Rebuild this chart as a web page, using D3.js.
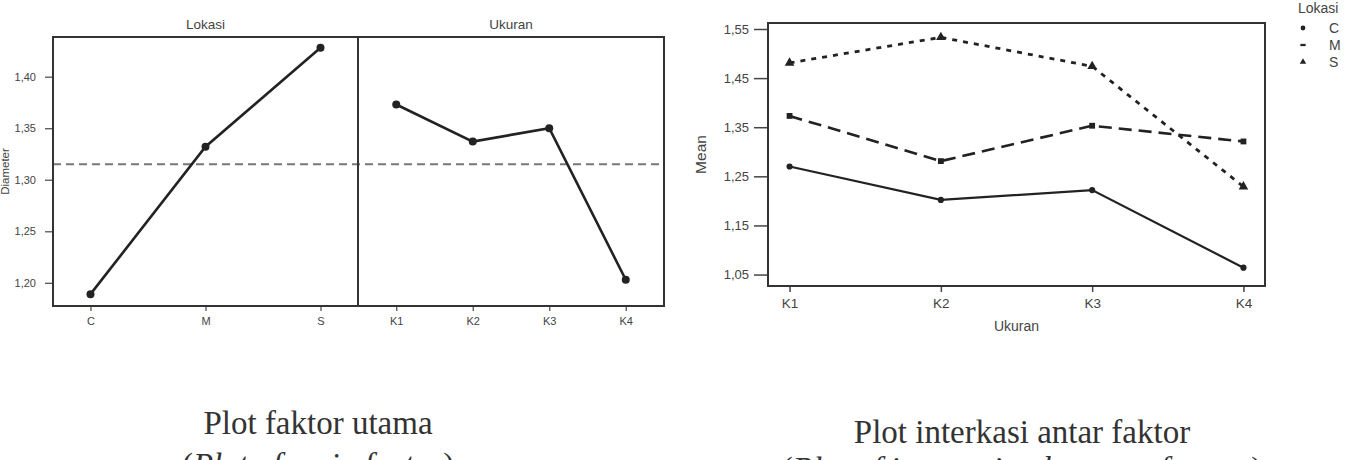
<!DOCTYPE html>
<html>
<head>
<meta charset="utf-8">
<script src="https://cdn.jsdelivr.net/npm/d3@7"></script>
<style>
  body { margin: 0; background: #fff; }
  svg { display: block; }
</style>
</head>
<body>
<div id="chart"></div>
<script>
// main effects
const lokasi = ["C", "M", "S"];
const lokasiMean = [1.189, 1.332, 1.428];
const ukuran = ["K1", "K2", "K3", "K4"];
const ukuranMean = [1.373, 1.337, 1.350, 1.203];
const grandMean = 1.315;
const mainTicks = [1.20, 1.25, 1.30, 1.35, 1.40];

// interaction (one series per lokasi, values over ukuran)
const seriesC = [1.270, 1.202, 1.222, 1.064];
const seriesM = [1.373, 1.281, 1.353, 1.321];
const seriesS = [1.481, 1.533, 1.474, 1.229];
const interTicks = [1.05, 1.15, 1.25, 1.35, 1.45, 1.55];

const fmt = d3.formatLocale({decimal: ",", thousands: ".", grouping: [3], currency: ["", ""]}).format(".2f");

const sans = "Liberation Sans, Arial, sans-serif";
const serif = "Liberation Serif, Times New Roman, serif";

const svg = d3.select("#chart").append("svg")
    .attr("width", 1350)
    .attr("height", 460)
    .attr("font-family", sans);

svg.append("rect").attr("width", 1350).attr("height", 460).attr("fill", "#fff");

const ink = "#222";
const grey = "#444";

// ---------- left chart: main effects ----------
const top1 = 37, bottom1 = 306;
const y1 = d3.scaleLinear().domain([1.1775, 1.4385]).range([bottom1, top1]);
const xLok = d3.scalePoint().domain(lokasi).range([53, 358]).padding(0.326);
const xUk = d3.scalePoint().domain(ukuran).range([358, 664]).padding(0.5);

const yAx1 = svg.append("g")
    .attr("transform", "translate(53,0)")
    .call(d3.axisLeft(y1).tickValues(mainTicks).tickFormat(fmt).tickSize(8).tickPadding(9));
yAx1.select(".domain").remove();
yAx1.selectAll("line").attr("stroke", "#555").attr("stroke-width", 1.3);
yAx1.selectAll("text").attr("fill", grey).attr("font-size", 11).attr("font-family", sans);

svg.append("text")
    .attr("transform", "translate(9," + ((top1 + bottom1) / 2) + ") rotate(-90)")
    .attr("text-anchor", "middle")
    .attr("font-size", 11.5)
    .attr("fill", grey)
    .text("Diameter");

[[xLok, "Lokasi"], [xUk, "Ukuran"]].forEach(function(p) {
    const sc = p[0];
    const ax = svg.append("g")
        .attr("transform", "translate(0," + bottom1 + ")")
        .call(d3.axisBottom(sc).tickSize(5).tickPadding(6));
    ax.select(".domain").remove();
    ax.selectAll("line").attr("stroke", "#555").attr("stroke-width", 1.3);
    ax.selectAll("text").attr("fill", grey).attr("font-size", 11).attr("font-family", sans);
    const r = sc.range();
    svg.append("text")
        .attr("x", (r[0] + r[1]) / 2)
        .attr("y", 29)
        .attr("text-anchor", "middle")
        .attr("font-size", 13.5)
        .attr("fill", grey)
        .text(p[1]);
});

// mean reference line
svg.append("line")
    .attr("x1", 53).attr("x2", 664)
    .attr("y1", y1(grandMean)).attr("y2", y1(grandMean))
    .attr("stroke", "#777").attr("stroke-width", 2)
    .attr("stroke-dasharray", "8,5");

const line1 = d3.line().x(d => d[0]).y(d => y1(d[1]));
const lokPts = lokasi.map((k, i) => [xLok(k), lokasiMean[i]]);
const ukPts = ukuran.map((k, i) => [xUk(k), ukuranMean[i]]);

[lokPts, ukPts].forEach(function(pts) {
    svg.append("path")
        .attr("d", line1(pts))
        .attr("fill", "none")
        .attr("stroke", ink)
        .attr("stroke-width", 2.6);
    svg.selectAll(null).data(pts).enter().append("circle")
        .attr("cx", d => d[0]).attr("cy", d => y1(d[1]))
        .attr("r", 4).attr("fill", ink);
});

svg.append("rect")
    .attr("x", 53).attr("y", top1)
    .attr("width", 664 - 53).attr("height", bottom1 - top1)
    .attr("fill", "none").attr("stroke", "#333").attr("stroke-width", 2);
svg.append("line")
    .attr("x1", 358).attr("x2", 358).attr("y1", top1).attr("y2", bottom1)
    .attr("stroke", "#333").attr("stroke-width", 2);

// ---------- right chart: interaction ----------
const left2 = 768, right2 = 1265, top2 = 23, bottom2 = 286;
const y2 = d3.scaleLinear().domain([1.0267, 1.5622]).range([bottom2, top2]);
const x2 = d3.scalePoint().domain(ukuran).range([left2, right2]).padding(0.1425);

const yAx2 = svg.append("g")
    .attr("transform", "translate(" + left2 + ",0)")
    .call(d3.axisLeft(y2).tickValues(interTicks).tickFormat(fmt).tickSize(14).tickPadding(5));
yAx2.select(".domain").remove();
yAx2.selectAll("line").attr("stroke", "#444").attr("stroke-width", 1.5);
yAx2.selectAll("text").attr("fill", grey).attr("font-size", 13).attr("font-family", sans);

const xAx2 = svg.append("g")
    .attr("transform", "translate(0," + bottom2 + ")")
    .call(d3.axisBottom(x2).tickSize(6).tickPadding(6));
xAx2.select(".domain").remove();
xAx2.selectAll("line").attr("stroke", "#444").attr("stroke-width", 1.5);
xAx2.selectAll("text").attr("fill", grey).attr("font-size", 13.5).attr("font-family", sans);

svg.append("text")
    .attr("x", (left2 + right2) / 2).attr("y", 331)
    .attr("text-anchor", "middle").attr("font-size", 14).attr("fill", grey)
    .text("Ukuran");
svg.append("text")
    .attr("transform", "translate(706," + ((top2 + bottom2) / 2) + ") rotate(-90)")
    .attr("text-anchor", "middle").attr("font-size", 15.5).attr("fill", grey)
    .text("Mean");

const series = [
    {name: "C", values: seriesC, dash: null, width: 2.2, symbol: d3.symbolCircle, size: 30},
    {name: "M", values: seriesM, dash: "13,7", width: 2.6, symbol: d3.symbolSquare, size: 34},
    {name: "S", values: seriesS, dash: "5,6", width: 2.8, symbol: d3.symbolTriangle, size: 40}
];

const line2 = d3.line().x((d, i) => x2(ukuran[i])).y(d => y2(d));

series.forEach(function(s) {
    svg.append("path")
        .attr("d", line2(s.values))
        .attr("fill", "none")
        .attr("stroke", ink)
        .attr("stroke-width", s.width)
        .attr("stroke-dasharray", s.dash);
    svg.selectAll(null).data(s.values).enter().append("path")
        .attr("d", d3.symbol().type(s.symbol).size(s.size))
        .attr("transform", (d, i) => "translate(" + x2(ukuran[i]) + "," + y2(d) + ")")
        .attr("fill", ink);
});

svg.append("rect")
    .attr("x", left2).attr("y", top2)
    .attr("width", right2 - left2).attr("height", bottom2 - top2)
    .attr("fill", "none").attr("stroke", "#333").attr("stroke-width", 2);

// legend
const leg = svg.append("g").attr("transform", "translate(1298,0)");
leg.append("text").attr("x", 0).attr("y", 13).attr("font-size", 14).attr("fill", grey).text("Lokasi");
series.forEach(function(s, i) {
    const yy = 28 + i * 17;
    leg.append("path")
        .attr("d", d3.symbol().type(s.symbol).size(i === 1 ? 14 : 18))
        .attr("transform", "translate(5," + yy + ")" + (i === 1 ? " scale(1.4,0.6)" : ""))
        .attr("fill", ink);
    leg.append("text").attr("x", 31).attr("y", yy + 5).attr("font-size", 14).attr("fill", grey).text(s.name);
});

// captions
svg.append("text")
    .attr("x", 318).attr("y", 434)
    .attr("text-anchor", "middle").attr("font-family", serif).attr("font-size", 33).attr("fill", "#333")
    .text("Plot faktor utama");
const cap1 = svg.append("text")
    .attr("x", 318).attr("y", 476)
    .attr("text-anchor", "middle").attr("font-family", serif).attr("font-size", 33).attr("fill", "#333");
cap1.append("tspan").text("(");
cap1.append("tspan").attr("font-style", "italic").text("Plot of main factor");
cap1.append("tspan").text(")");

svg.append("text")
    .attr("x", 1022).attr("y", 443)
    .attr("text-anchor", "middle").attr("font-family", serif).attr("font-size", 33).attr("fill", "#333")
    .text("Plot interkasi antar faktor");
const cap2 = svg.append("text")
    .attr("x", 1022).attr("y", 480)
    .attr("text-anchor", "middle").attr("font-family", serif).attr("font-size", 33).attr("fill", "#333");
cap2.append("tspan").text("(");
cap2.append("tspan").attr("font-style", "italic").text("Plot of interaction between factors");
cap2.append("tspan").text(")");
</script>
</body>
</html>
